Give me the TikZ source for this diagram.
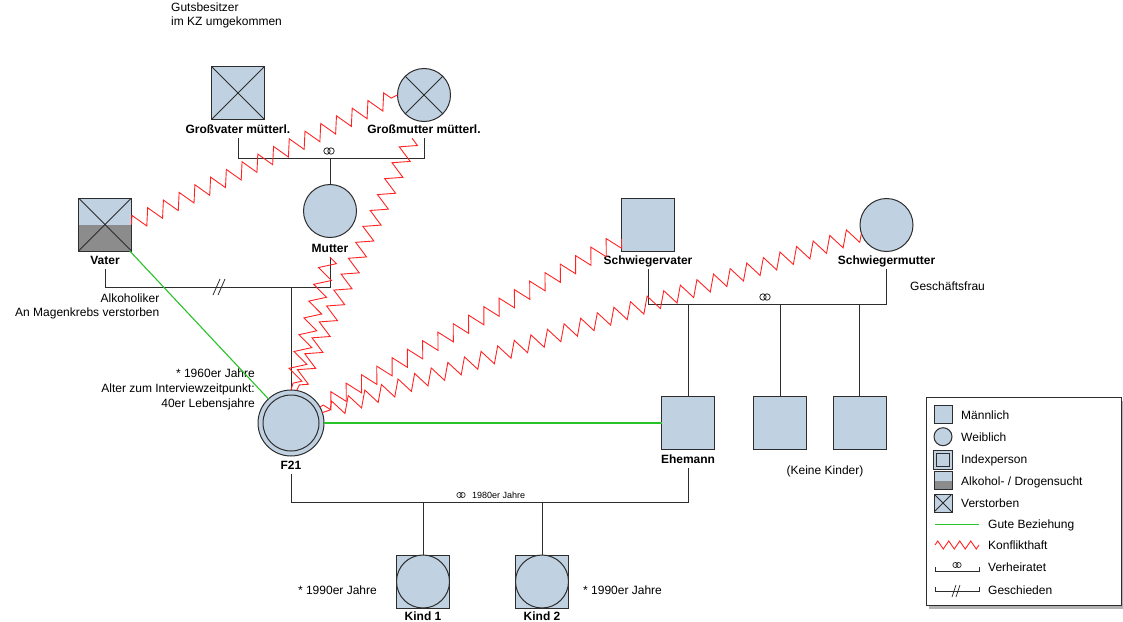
\documentclass[tikz,border=0pt]{standalone}
\usepackage{fontspec}
\setmainfont{Liberation Sans}
\usetikzlibrary{decorations.pathmorphing,calc}
\definecolor{pfill}{RGB}{192,209,225}
\definecolor{alkgray}{RGB}{140,140,140}
\definecolor{lcol}{RGB}{45,45,45}
\definecolor{goodgreen}{RGB}{40,195,40}
\definecolor{conflred}{RGB}{255,35,35}
\tikzset{
  male/.style={draw=lcol, fill=pfill, line width=1pt, minimum size=53pt, inner sep=0pt, outer sep=0pt},
  female/.style={male, circle},
  dead/.style={path picture={\draw[lcol,line width=0.9pt] (path picture bounding box.north west) -- (path picture bounding box.south east) (path picture bounding box.north east) -- (path picture bounding box.south west);}},
  alkdead/.style={path picture={\fill[alkgray] (path picture bounding box.west) rectangle (path picture bounding box.south east);
     \draw[lcol,line width=0.9pt] (path picture bounding box.north west) -- (path picture bounding box.south east) (path picture bounding box.north east) -- (path picture bounding box.south west);}},
  alk/.style={path picture={\fill[alkgray] (path picture bounding box.west) rectangle (path picture bounding box.south east);}},
  lab/.style={font=\fontsize{12}{14}\selectfont\bfseries, text height=9pt, text depth=3pt, inner sep=2pt, anchor=base},
  txt/.style={font=\fontsize{12}{14}\selectfont, inner sep=0pt},
  rel/.style={draw=lcol, line width=1pt},
  good/.style={draw=goodgreen, line width=1.1pt},
  conflict/.style={draw=conflred, line width=0.9pt, decorate, decoration={zigzag, amplitude=8pt, segment length=17.5pt}},
  smallconflict/.style={draw=conflred, line width=0.9pt, decorate, decoration={zigzag, amplitude=4pt, segment length=11pt}},
  pics/wed/.style={code={\draw[lcol,line width=0.8pt] (-2pt,0) circle[radius=3.2pt] (2pt,0) circle[radius=3.2pt];}},
  pics/smallwed/.style={code={\draw[lcol,line width=0.7pt] (-1.6pt,0) circle[radius=2.6pt] (1.6pt,0) circle[radius=2.6pt];}},
  pics/divorce/.style={code={\draw[lcol,line width=0.8pt] (-7,8) -- (0,-8) (-2,8) -- (5,-8);}},
  pics/smalldivorce/.style={code={\draw[lcol,line width=0.7pt] (-4,6) -- (0,-6) (0,6) -- (4,-6);}},
}
\begin{document}
\begin{tikzpicture}[x=1pt,y=-1pt]
\useasboundingbox (0,0) rectangle (1123,621);

% ---------- persons ----------
\node[male,dead] (gv) at (238,93) {};
\node[female,dead] (gm) at (424,95) {};
\node[female] (mu) at (330,211) {};
\node[male,alkdead] (va) at (105,224.5) {};
\node[female, minimum size=66pt, path picture={\draw[lcol,line width=1pt] (path picture bounding box.center) circle[radius=28pt];}] (f21) at (291,423) {};
\node[male] (eh) at (688,423) {};
\node[male] (sv) at (648,224.5) {};
\node[female] (sm) at (886.5,225) {};
\node[male] (s1) at (780,423) {};
\node[male] (s2) at (859.5,423) {};
\node[male] (k1) at (423,581.5) {};
\node[female] (k1c) at (423,581.5) {};
\node[male] (k2) at (542,581.5) {};
\node[female] (k2c) at (542,581.5) {};

% ---------- labels ----------
\node[lab] (gvl) at (238,133) {Großvater mütterl.};
\node[lab] (gml) at (424,133) {Großmutter mütterl.};
\node[lab] (mul) at (330,252) {Mutter};
\node[lab] (val) at (105,264) {Vater};
\node[lab] (f21l) at (291,469) {F21};
\node[lab] (ehl) at (688,463) {Ehemann};
\node[lab] (svl) at (648,264) {Schwiegervater};
\node[lab] (sml) at (886.5,264) {Schwiegermutter};
\node[lab] (k1l) at (423,620.5) {Kind 1};
\node[lab] (k2l) at (542,620.5) {Kind 2};

% ---------- annotations ----------
\node[txt, align=left, anchor=base west, font=\fontsize{12}{13.5}\selectfont] (gut) at (171,25) {Gutsbesitzer\\im KZ umgekommen};
\node[txt, align=right, anchor=base east] (alk) at (159.5,316) {Alkoholiker\\An Magenkrebs verstorben};
\node[txt, align=right, anchor=base east, font=\fontsize{12}{15}\selectfont] (f21t) at (255,407) {* 1960er Jahre\\Alter zum Interviewzeitpunkt:\\40er Lebensjahre};
\node[txt, anchor=base west] (gesch) at (910,290) {Geschäftsfrau};
\node[txt, anchor=base] (keine) at (825,474) {(Keine Kinder)};
\node[txt, anchor=base east] (k1t) at (377,594) {* 1990er Jahre};
\node[txt, anchor=base west] (k2t) at (583,594) {* 1990er Jahre};

% ---------- family lines ----------
\coordinate (gmc) at (329,158);
\draw[rel] (gvl.south) -- (gvl.south |- gmc) -- (gml.south |- gmc) -- (gml.south);
\draw[rel] (mu |- gmc) -- (mu.north);
\pic at (329,151) {wed};

\coordinate (vmc) at (220,287);
\draw[rel] (val.south) -- (val.south |- vmc) -- (mul.south |- vmc) -- (mul.south);
\draw[rel] (f21 |- vmc) -- (f21.north);
\pic at (vmc) {divorce};

\coordinate (svc) at (765,304);
\draw[rel] (svl.south) -- (svl.south |- svc) -- (sml.south |- svc) -- (sml.south);
\draw[rel] (eh |- svc) -- (eh.north);
\draw[rel] (s1 |- svc) -- (s1.north);
\draw[rel] (s2 |- svc) -- (s2.north);
\pic at (765,297) {wed};

\coordinate (fec) at (490,502);
\draw[rel] (f21l.south) -- (f21l.south |- fec) -- (ehl.south |- fec) -- (ehl.south);
\draw[rel] (k1 |- fec) -- (k1.north);
\draw[rel] (k2 |- fec) -- (k2.north);
\pic at (461,495) {smallwed};
\node[txt, anchor=base west, font=\fontsize{9}{10}\selectfont] (fect) at (472,498.3) {1980er Jahre};

% ---------- relationships ----------
\draw[good] (va) -- (f21);
\draw[good] (f21) -- (eh);
\coordinate (gmz) at ($(gml.south)+(-12,0)$);
\draw[conflict] (va.east) -- (gm.west);
\draw[conflict] (gmz) -- (f21.80);
\draw[conflict] (mul.south) -- (f21.north);
\draw[conflict] (sv) -- (f21);
\draw[conflict] (sm) -- (f21);

% ---------- legend ----------
\fill[black!30] (929,401) rectangle (1125,609);
\node[draw=lcol, fill=white, line width=0.9pt, minimum width=195pt, minimum height=208pt, inner sep=0pt, anchor=north west] (leg) at (926,397) {};

\node[male, minimum size=18pt] (lm) at (943,414.5) {};
\node[female, minimum size=18pt] (lf) at (943,436.7) {};
\node[male, minimum size=19pt] (li) at (943,459.7) {};
\node[male, minimum size=12.5pt, line width=0.9pt] (lii) at (943,459.7) {};
\node[male, minimum size=18pt, alk] (la) at (943,480.5) {};
\node[male, minimum size=18pt, dead] (ld) at (943,503) {};

\node[txt, anchor=base west] (lmt) at (961,419.3) {Männlich};
\node[txt, anchor=base west] (lft) at (961,441.7) {Weiblich};
\node[txt, anchor=base west] (lit) at (961,463.6) {Indexperson};
\node[txt, anchor=base west] (lat) at (961,485) {Alkohol- / Drogensucht};
\node[txt, anchor=base west] (ldt) at (961,507) {Verstorben};

\coordinate (lg1) at (935,524.5);
\coordinate (lg2) at (979,524.5);
\draw[good] (lg1) -- (lg2);
\node[txt, anchor=base west] (lgt) at (988,528) {Gute Beziehung};

\coordinate (lk1) at (935,545);
\coordinate (lk2) at (979,545);
\draw[smallconflict] (lk1) -- (lk2);
\node[txt, anchor=base west] (lkt) at (988,549) {Konflikthaft};

\coordinate (lv1) at (935,571);
\coordinate (lv2) at (979,571);
\draw[rel, line width=0.8pt] ($(lv1)+(0,-4)$) -- (lv1) -- (lv2) -- ($(lv2)+(0,-4)$);
\pic at (957,565) {smallwed};
\node[txt, anchor=base west] (lvt) at (988,571.7) {Verheiratet};

\coordinate (ls1) at (935,591);
\coordinate (ls2) at (979,591);
\draw[rel, line width=0.8pt] ($(ls1)+(0,-4)$) -- (ls1) -- (ls2) -- ($(ls2)+(0,-4)$);
\pic at (956,591) {smalldivorce};
\node[txt, anchor=base west] (lst) at (988,594) {Geschieden};
\end{tikzpicture}
\end{document}
